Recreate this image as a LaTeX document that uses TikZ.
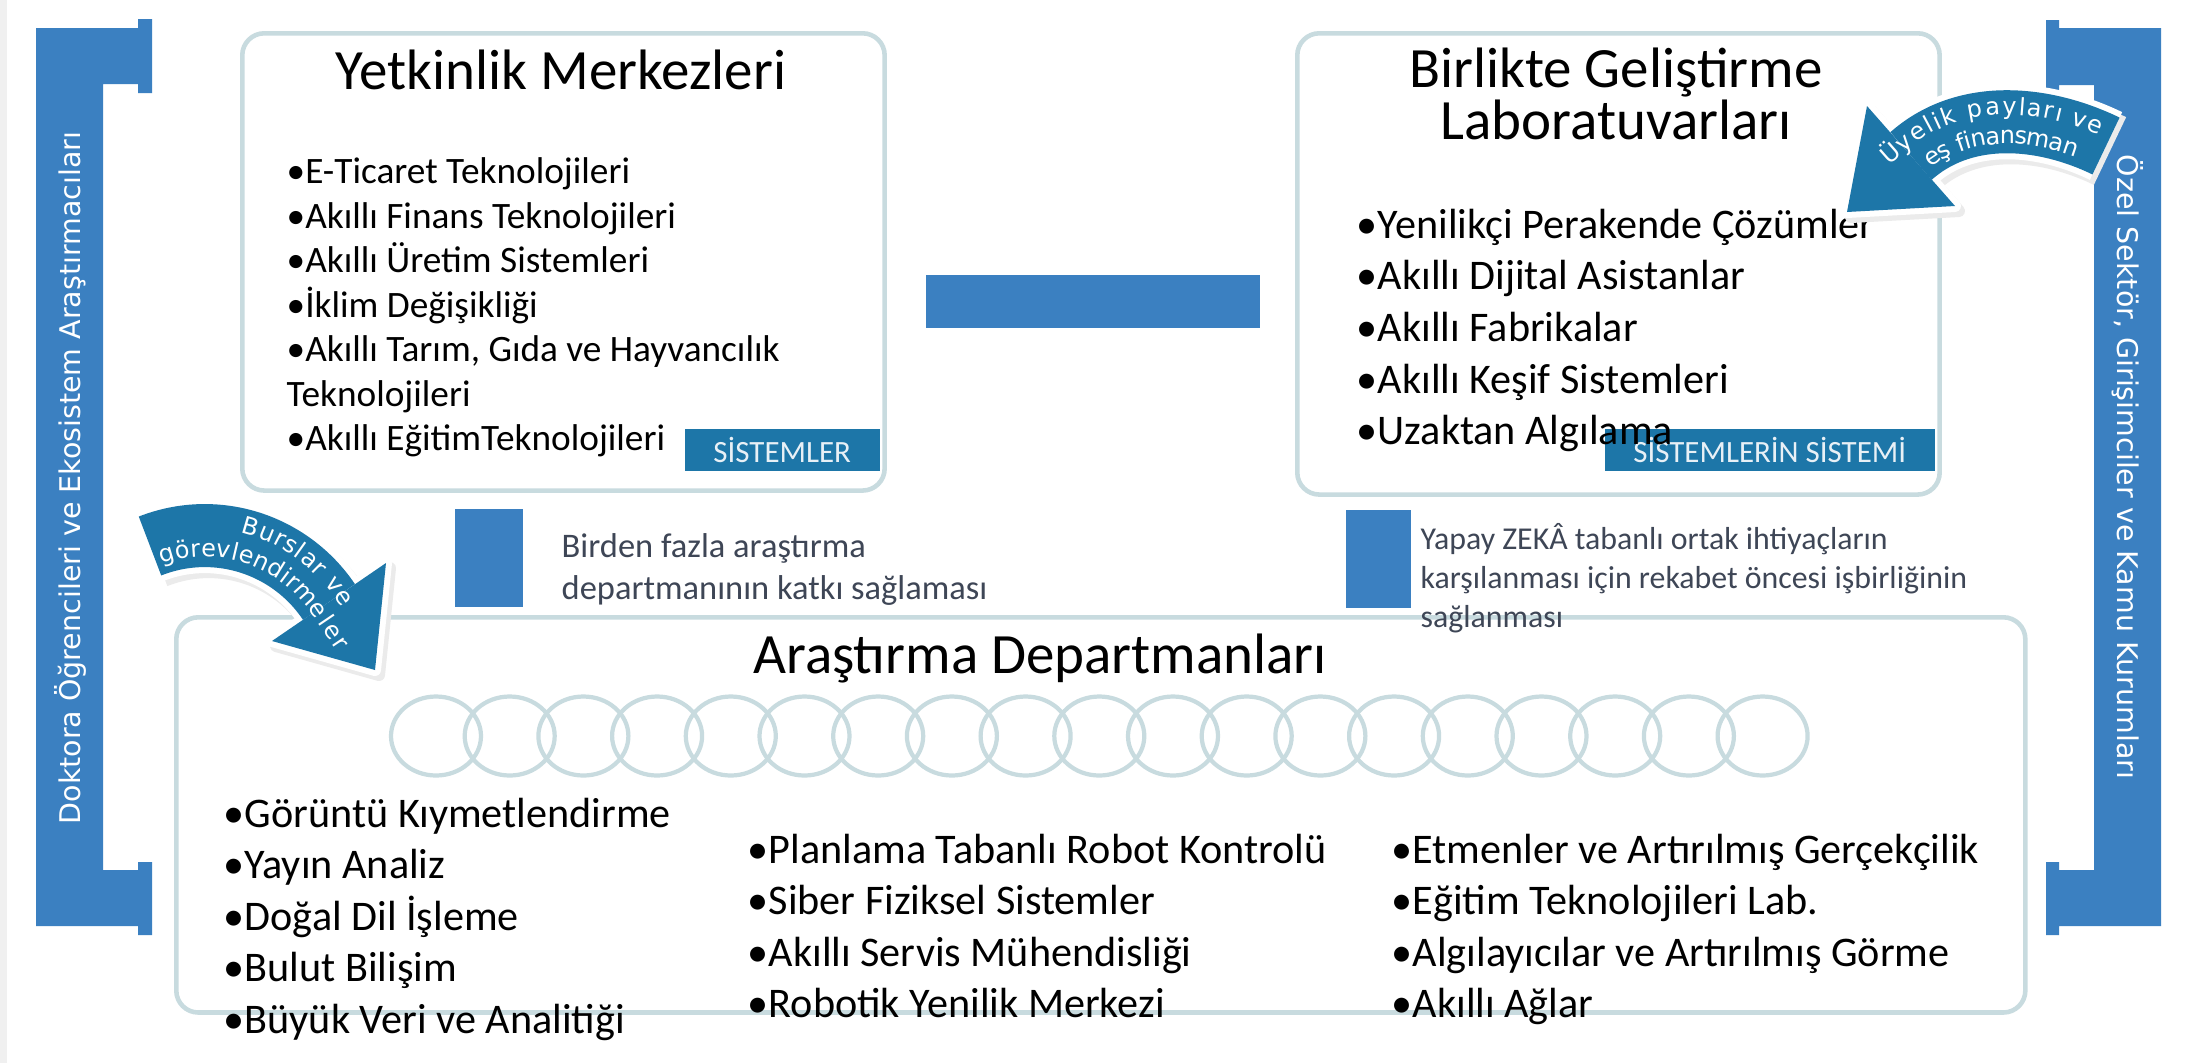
\documentclass[tikz,border=0pt]{standalone}
\usepackage{fontspec}
\setmainfont{Carlito}
\newfontfamily\sidefont{DejaVu Sans}
\usepackage{tikz}
\usetikzlibrary{decorations.text}
\definecolor{brblue}{RGB}{59,128,193}
\definecolor{sysblue}{RGB}{29,118,168}
\definecolor{panelline}{RGB}{200,219,223}
\definecolor{notegray}{RGB}{62,70,86}
\definecolor{stripgray}{RGB}{240,240,240}
\definecolor{systext}{RGB}{232,240,246}

\tikzset{
  panel/.style={draw=panelline, line width=1.3pt, rounded corners=0.22cm, fill=white, inner sep=0pt, anchor=north west},
  paneltitle/.style={font=\fontsize{16.2}{13.7}\selectfont, align=center, inner sep=0pt},
  itemlist/.style={anchor=north west, align=left, inner sep=0pt},
  syslabel/.style={fill=sysblue, text=systext, font=\fontsize{8.8}{10}\selectfont, inner sep=0pt, anchor=north west, minimum height=0.42cm},
  linkbar/.style={fill=brblue},
  notetext/.style={anchor=north west, align=left, inner sep=0pt, text=notegray},
  sidetext/.style={text=white, font=\sidefont\fontsize{8.1}{9}\selectfont, inner sep=0pt},
  ring/.style={draw=panelline, line width=1.2pt},
  bendband/.style={draw=sysblue, line width=0.63cm},
  bendhead/.style={fill=sysblue},
  bendhalo/.style={draw=#1, line width=0.75cm},
  headhalo/.style={draw=#1, fill=#1, line width=0.12cm, line join=round},
  bendtext/.style={decorate, decoration={text along path, text color=white, #1}}
}

\begin{document}
\begin{tikzpicture}[x=0.01cm, y=-0.01cm]
\useasboundingbox (0,0) rectangle (2187,1063);
% Page
\fill[white] (0,0) rectangle (2187,1063);
\fill[stripgray] (0,0) rectangle (7,1063);

% Left bracket
\fill[brblue] (36,28) -- (138,28) -- (138,19) -- (152,19) -- (152,93) -- (138,93) -- (138,84) -- (103,84)
  -- (103,870) -- (138,870) -- (138,862) -- (152,862) -- (152,935) -- (138,935) -- (138,926) -- (36,926) -- cycle;
\node[sidetext, rotate=90] (lside) at (70,478) {Doktora Öğrencileri ve Ekosistem Araştırmacıları};

% Right bracket
\fill[brblue] (2161,28) -- (2059,28) -- (2059,20) -- (2046,20) -- (2046,93) -- (2059,93) -- (2059,85) -- (2094,85)
  -- (2094,870) -- (2059,870) -- (2059,862) -- (2046,862) -- (2046,935) -- (2059,935) -- (2059,926) -- (2161,926) -- cycle;
\node[sidetext, rotate=-90] (rside) at (2128,467) {Özel Sektör, Girişimciler ve Kamu Kurumları};

% Panels
\node[panel, minimum width=6.42cm, minimum height=4.57cm] (ymbox) at (240,31) {};
\node[panel, minimum width=6.42cm, minimum height=4.61cm] (bglbox) at (1295,31) {};
\node[panel, minimum width=18.48cm, minimum height=3.95cm] (adbox) at (174,615) {};

% Labels
\node[syslabel, minimum width=1.95cm] (ymsys) at (684,428) {SİSTEMLER};
\node[syslabel, minimum width=3.30cm] (bglsys) at (1604,428) {SİSTEMLERİN SİSTEMİ};

% Competence centres
\node[paneltitle] (ymtitle) at (561,70) {Yetkinlik Merkezleri};
\node[itemlist, font=\fontsize{10.6}{12.66}\selectfont] (ymlist) at (286,157)
  {•E-Ticaret Teknolojileri\\•Akıllı Finans Teknolojileri\\•Akıllı Üretim Sistemleri\\•İklim Değişikliği\\•Akıllı Tarım, Gıda ve Hayvancılık\\Teknolojileri\\•Akıllı EğitimTeknolojileri};

% Co-development labs
\node[paneltitle] (bgltitle) at (1616,94) {Birlikte Geliştirme\\Laboratuvarları};
\node[itemlist, font=\fontsize{12}{14.7}\selectfont] (bgllist) at (1356,208)
  {•Yenilikçi Perakende Çözümler\\•Akıllı Dijital Asistanlar\\•Akıllı Fabrikalar\\•Akıllı Keşif Sistemleri\\•Uzaktan Algılama};

% Research departments
\node[paneltitle] (adtitle) at (1040,658) {Araştırma Departmanları};
\node[itemlist, font=\fontsize{12}{14.65}\selectfont] (adlistA) at (223,797)
  {•Görüntü Kıymetlendirme\\•Yayın Analiz\\•Doğal Dil İşleme\\•Bulut Bilişim\\•Büyük Veri ve Analitiği};
\node[itemlist, font=\fontsize{12}{14.65}\selectfont] (adlistB) at (747,833)
  {•Planlama Tabanlı Robot Kontrolü\\•Siber Fiziksel Sistemler\\•Akıllı Servis Mühendisliği\\•Robotik Yenilik Merkezi};
\node[itemlist, font=\fontsize{12}{14.65}\selectfont] (adlistC) at (1391,833)
  {•Etmenler ve Artırılmış Gerçekçilik\\•Eğitim Teknolojileri Lab.\\•Algılayıcılar ve Artırılmış Görme\\•Akıllı Ağlar};

% Chain of rings
\foreach \k in {0,...,18}
  \draw[ring] ({436+73.7*\k},736) ellipse [x radius=45, y radius=39.5];

% Link bars and notes
\fill[linkbar] (926,275) rectangle (1260,328);
\fill[linkbar] (455,509) rectangle (523,607);
\fill[linkbar] (1346,510) rectangle (1411,608);
\node[notetext, font=\fontsize{9.8}{11.95}\selectfont] (noteA) at (561,533)
  {Birden fazla araştırma\\departmanının katkı sağlaması};
\node[notetext, font=\fontsize{9.05}{11.1}\selectfont] (noteB) at (1420,523)
  {Yapay ZEKÂ tabanlı ortak ihtiyaçların\\karşılanması için rekabet öncesi işbirliğinin\\sağlanması};

% Scholarships arrow (left)
\begin{scope}[xshift=0.04cm, yshift=-0.05cm]
  \draw[bendhalo=black!8] (150,546) .. controls (216,520) and (290,544) .. (329,602);
  \filldraw[headhalo=black!8] (386,563) -- (375,670) -- (272,641) -- cycle;
\end{scope}
\draw[bendhalo=white] (150,546) .. controls (216,520) and (290,544) .. (329,602);
\filldraw[headhalo=white] (386,563) -- (375,670) -- (272,641) -- cycle;
\draw[bendband] (150,546) .. controls (216,520) and (290,544) .. (329,602);
\fill[bendhead] (386,563) -- (375,670) -- (272,641) -- cycle;
\path[bendtext={raise=0.07cm, text align={fit to path, left indent=0.9cm, right indent=0.7cm},
  text={|\sidefont\fontsize{6.8}{8}\selectfont|Burslar ve}}]
  (150,546) .. controls (216,520) and (290,544) .. (329,602) -- (375,670);
\path[bendtext={raise=-0.21cm, text align={fit to path, left indent=0.06cm, right indent=0.36cm},
  text={|\sidefont\fontsize{6.8}{8}\selectfont|görevlendirmeler}}]
  (150,546) .. controls (216,520) and (290,544) .. (329,602) -- (375,670);

% Membership arrow (right)
\begin{scope}[xshift=0.04cm, yshift=-0.05cm]
  \draw[bendhalo=black!8] (2106,146) .. controls (2042,115) and (1964,109) .. (1911,156);
  \filldraw[headhalo=black!8] (1867,106) -- (1847,212) -- (1955,206) -- cycle;
\end{scope}
\draw[bendhalo=white] (2106,146) .. controls (2042,115) and (1964,109) .. (1911,156);
\filldraw[headhalo=white] (1867,106) -- (1847,212) -- (1955,206) -- cycle;
\draw[bendband] (2106,146) .. controls (2042,115) and (1964,109) .. (1911,156);
\fill[bendhead] (1867,106) -- (1847,212) -- (1955,206) -- cycle;
\path[bendtext={raise=0.07cm, text align={fit to path, left indent=0.62cm, right indent=0.1cm},
  text={|\sidefont\fontsize{6.8}{8}\selectfont|Üyelik payları ve}}]
  (1847,212) -- (1911,156) .. controls (1964,109) and (2042,115) .. (2106,146);
\path[bendtext={raise=-0.22cm, text align={fit to path, left indent=0.95cm, right indent=0.25cm},
  text={|\sidefont\fontsize{6.8}{8}\selectfont|eş finansman}}]
  (1847,212) -- (1911,156) .. controls (1964,109) and (2042,115) .. (2106,146);
\end{tikzpicture}
\end{document}
